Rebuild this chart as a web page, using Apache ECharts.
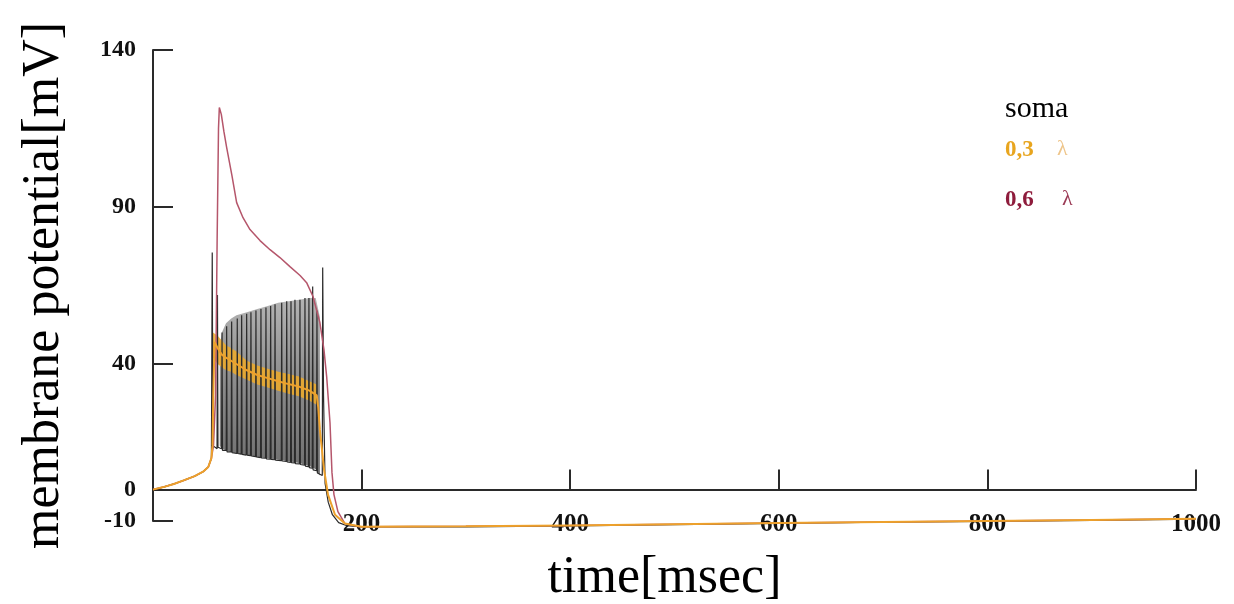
<!DOCTYPE html>
<html>
<head>
<meta charset="utf-8">
<script src="https://cdn.jsdelivr.net/npm/echarts@6/dist/echarts.min.js"></script>
<style>
  html, body { margin: 0; padding: 0; background: #ffffff; }
  #chart { width: 1234px; height: 604px; }
</style>
</head>
<body>
<div id="chart"></div>
<script>
// ---------- data ----------
const xTickValues = [200, 400, 600, 800, 1000];
const yTickValues = [-10, 0, 40, 90, 140];

// 0,6 lambda trace (red)
const redT = [0, 10, 20, 30, 40, 48, 53, 56, 58, 60, 61.5, 62.8, 63.6, 65.5, 68, 70.6, 75.7, 80.2, 86.3, 93, 102.6, 112.2, 121.7, 131.3, 141, 147.3, 153.4, 160, 163.9, 166.5, 169.7, 171.6, 173.5, 177.3, 184, 198, 300, 400, 500, 600, 700, 800, 900, 1000];
const redV = [0, 0.8, 1.8, 3.0, 4.3, 5.7, 7.2, 10.0, 14, 30, 80, 115, 121.7, 119.5, 114, 109, 100, 91.4, 86.6, 82.8, 79.3, 76.4, 73.9, 71, 68.2, 65.9, 61.5, 53.2, 44.6, 36, 21.3, 5.4, -1.6, -7, -10.8, -11.8, -11.7, -11.4, -11.0, -10.6, -10.3, -10.0, -9.7, -9.3];

// 0,3 lambda trace (orange) centre line
const orT = [0, 10, 20, 30, 40, 48, 53, 56, 57, 57.8, 59, 62, 66, 70, 80, 90, 100, 110, 120, 130, 140, 150, 157, 158.5, 160, 164, 167.8, 174.5, 184, 200, 300, 400, 500, 600, 700, 800, 900, 1000];
const orV = [0, 0.8, 1.8, 3.0, 4.3, 5.7, 7.2, 10.0, 14, 30, 47, 45, 43, 42, 40, 38, 36.5, 35.5, 34.5, 33.6, 32.8, 31.5, 30, 26, 19, 6.4, -1.6, -8, -10.8, -11.8, -11.7, -11.4, -11.0, -10.6, -10.3, -10.0, -9.7, -9.3];

// 0,3 lambda fast-oscillation envelope (orange band)
const orBandT  = [57.5, 62, 66, 70, 75, 80, 90, 100, 110, 120, 130, 140, 150, 157];
const orBandLo = [42, 40, 39, 38, 37.5, 36.5, 35, 33.5, 32.5, 31.5, 30.5, 29.7, 28.3, 27];
const orBandHi = [50, 49, 47.5, 46, 45, 44, 41, 39.5, 38.5, 37.5, 36.8, 36, 34.5, 33.5];

// soma fast-oscillation envelope (grey band)
const somaBandT  = [64, 66, 70, 75, 80, 90, 100, 110, 120, 130, 140, 150, 156, 160];
const somaBandLo = [14, 13, 12.5, 12, 11.5, 11, 10.5, 10, 9.5, 9, 8.5, 7.5, 6.5, 4.5];
const somaBandHi = [45, 50, 53, 54.5, 55.5, 56.5, 57.5, 58.5, 59.5, 60, 60.5, 61, 61, 55];

// soma spike train (black), [time, potential]
const somaTrace = [
  [0, 0], [10, 0.8], [20, 1.8], [30, 3.0], [40, 4.3], [48, 5.7], [53, 7.2], [56, 10],
  [56.8, 75.5], [57.4, 14], [61.4, 13], [61.8, 62], [62.3, 13.5], [65.8, 13], [66.2, 50], [66.6, 12.5],
  [70.2, 12.5], [70.6, 52], [71, 12], [75, 12], [75.4, 53.5], [75.8, 11.8], [80.4, 11.5], [80.8, 54.5], [81.2, 11.5],
  [84.6, 11.3], [85, 55.5], [85.4, 11.2], [89.4, 11], [89.8, 56], [90.2, 11], [93.5, 10.8], [93.9, 56.5], [94.3, 10.7],
  [98.3, 10.5], [98.7, 57], [99.1, 10.4], [103.1, 10.2], [103.5, 57.5], [103.9, 10.1], [107.9, 10], [108.3, 58], [108.7, 9.8],
  [112.4, 9.7], [112.8, 58.5], [113.2, 9.6], [116.6, 9.5], [117, 59], [117.4, 9.4], [123, 9.2], [123.4, 59.5], [123.8, 9.1],
  [127.8, 9], [128.2, 60], [128.6, 8.8], [131.9, 8.7], [132.3, 60], [132.7, 8.6], [135.7, 8.5], [136.1, 60.5], [136.5, 8.3],
  [140.5, 8.2], [140.9, 60.5], [141.3, 8], [145.3, 7.8], [145.7, 61], [146.1, 7.5], [149.1, 7.3], [149.5, 61], [149.9, 7],
  [152.7, 6.8], [153.1, 64.7], [153.5, 6.3], [156.8, 6], [157.2, 57], [157.6, 5.3], [162.3, 4.5], [162.7, 70.7], [163.5, 30],
  [165, 2], [168, -4], [172, -8], [178, -10.5], [186, -11.5], [200, -11.9], [300, -11.9], [400, -11.6], [500, -11.2],
  [600, -10.8], [700, -10.4], [800, -10.1], [900, -9.8], [1000, -9.4]
];

// ---------- chart ----------
const zip = (T, V) => T.map((t, i) => [t, V[i]]);

function bandSeries(name, T, Lo, Hi, fill) {
  return {
    name: name,
    type: 'custom',
    silent: true,
    clip: false,
    data: T.map((t, i) => [t, Lo[i], Hi[i]]),
    encode: { x: 0, y: [1, 2] },
    renderItem: function (params, api) {
      if (params.dataIndex !== 0) return null;
      const pts = [];
      for (let i = 0; i < T.length; i++) pts.push(api.coord([T[i], Hi[i]]));
      for (let i = T.length - 1; i >= 0; i--) pts.push(api.coord([T[i], Lo[i]]));
      return { type: 'polygon', shape: { points: pts }, style: { fill: fill } };
    }
  };
}

const chart = echarts.init(document.getElementById('chart'), null, { renderer: 'canvas' });

const serif = '"Liberation Serif", "DejaVu Serif", serif';
const axisColor = '#2a2a2a';

chart.setOption({
  animation: false,
  backgroundColor: '#ffffff',
  grid: { left: 153, right: 38, top: 50, bottom: 83, containLabel: false, outerBoundsMode: 'none' },
  xAxis: {
    type: 'value',
    min: 0, max: 1000,
    name: 'time[msec]',
    nameLocation: 'middle',
    nameGap: 31,
    nameMoveOverlap: false,
    nameTextStyle: { fontFamily: serif, fontSize: 52, color: '#000', padding: [0, 20, 0, 0] },
    axisLine: { show: true, onZero: true, lineStyle: { color: axisColor, width: 2 } },
    axisTick: { show: true, inside: true, length: 20, customValues: xTickValues, lineStyle: { color: axisColor, width: 2 } },
    axisLabel: { show: true, margin: -9, customValues: xTickValues, formatter: function (v) { return String(v); },
      fontFamily: serif, fontWeight: 'bold', fontSize: 25, color: '#111' },
    splitLine: { show: false }
  },
  yAxis: {
    type: 'value',
    min: -10, max: 140,
    name: 'membrane potential[mV]',
    nameLocation: 'middle',
    nameRotate: 90,
    nameGap: 83,
    nameTextStyle: { fontFamily: serif, fontSize: 52, color: '#000' },
    axisLine: { show: true, lineStyle: { color: axisColor, width: 2 } },
    axisTick: { show: true, inside: true, length: 20, customValues: yTickValues, lineStyle: { color: axisColor, width: 2 } },
    axisLabel: { show: true, margin: 17, customValues: yTickValues, fontFamily: serif, fontWeight: 'bold', fontSize: 24, color: '#111' },
    splitLine: { show: false }
  },
  series: [
    bandSeries('soma band', somaBandT, somaBandLo, somaBandHi,
      new echarts.graphic.LinearGradient(0, 0, 0, 1, [
        { offset: 0, color: '#b4b4b4' },
        { offset: 0.5, color: '#8a8a8a' },
        { offset: 1, color: '#6e6e6e' }
      ])),
    {
      name: 'soma', type: 'line', data: somaTrace, showSymbol: false, clip: false,
      lineStyle: { color: '#2b2b2b', width: 1.2 }
    },
    {
      name: '0,6 λ', type: 'line', data: zip(redT, redV), showSymbol: false, clip: false,
      lineStyle: { color: '#b5566b', width: 1.5 }
    },
    bandSeries('0,3 λ band', orBandT, orBandLo, orBandHi, 'rgba(240,172,40,0.85)'),
    {
      name: '0,3 λ', type: 'line', data: zip(orT, orV), showSymbol: false, clip: false,
      lineStyle: { color: '#eda12c', width: 2 }
    }
  ],
  graphic: [
    { type: 'text', left: 1005, top: 94, style: { text: 'soma', font: '30px "Liberation Serif"', fill: '#000' } },
    { type: 'text', left: 1005, top: 139, style: { text: '0,3', font: 'bold 23px "Liberation Serif"', fill: '#e8a51e' } },
    { type: 'text', left: 1057, top: 138, style: { text: 'λ', font: '22px "Liberation Serif"', fill: '#eec58a' } },
    { type: 'text', left: 1005, top: 189, style: { text: '0,6', font: 'bold 23px "Liberation Serif"', fill: '#8e1c3c' } },
    { type: 'text', left: 1062, top: 188, style: { text: 'λ', font: '22px "Liberation Serif"', fill: '#9b3a55' } }
  ]
});
</script>
</body>
</html>
